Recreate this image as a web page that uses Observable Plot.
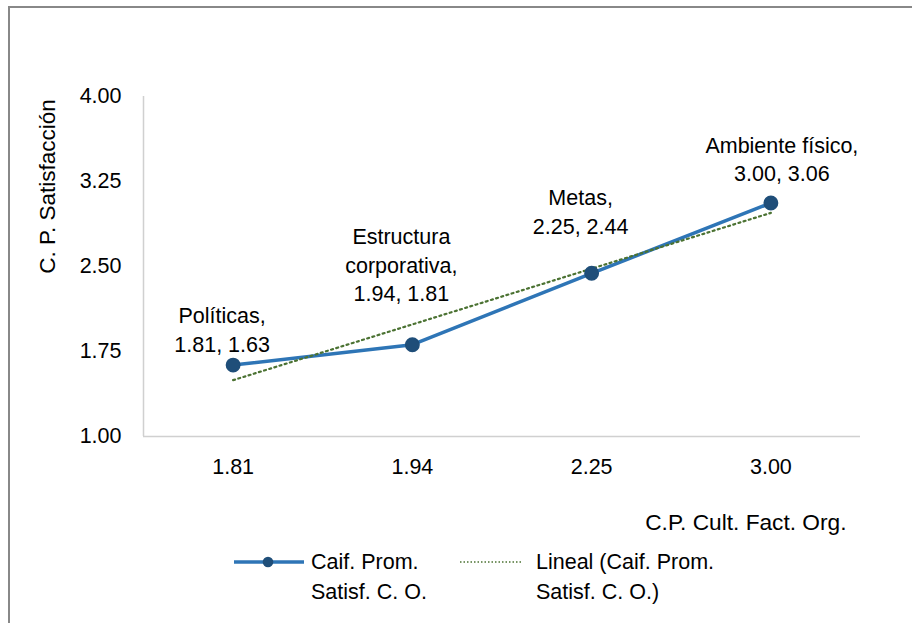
<!DOCTYPE html>
<html>
<head>
<meta charset="utf-8">
<script src="https://cdn.jsdelivr.net/npm/d3@7"></script>
<script src="https://cdn.jsdelivr.net/npm/@observablehq/plot@0.6"></script>
<style>
  html, body { margin: 0; padding: 0; background: #fff; }
  body { width: 912px; height: 623px; overflow: hidden; position: relative;
         font-family: "Liberation Sans", Arial, sans-serif; color: #000; }
  #frame { position: absolute; left: 8px; top: 6px; width: 1000px; height: 700px;
           border: 2px solid #888; box-sizing: border-box; }
  #chart { position: absolute; left: 0; top: 0; }
  .lg-item { position: absolute; top: 547px; font-size: 21.5px; line-height: 30px; }
  .lg-sw { position: absolute; top: 547px; }
</style>
</head>
<body>
<div id="frame"></div>
<div id="chart"></div>
<div id="legend"></div>
<script>
// ---- data ----
const categories = ["Políticas", "Estructura corporativa", "Metas", "Ambiente físico"];
const xValues = [1.81, 1.94, 2.25, 3.00];   // C.P. Cult. Fact. Org. (category axis)
const yValues = [1.63, 1.81, 2.44, 3.06];   // C. P. Satisfacción
const yTicks = [1.00, 1.75, 2.50, 3.25, 4.00];
const seriesName = "Caif. Prom. Satisf. C. O.";
const xTitle = "C.P. Cult. Fact. Org.";
const yTitle = "C. P. Satisfacción";

// ---- label layout (style, not data) ----
const labelWrap = [false, true, false, false];
const labelDx = [-11, -11, -11, 11];
const labelDy = [-37, -81, -63, -45];

const fmt = d3.format(".2f");
const data = categories.map((c, i) => ({ i: i + 1, name: c, xv: xValues[i], y: yValues[i] }));

const blue = "#2E75B6";
const navy = "#1F4E79";
const green = "#4B7232";
const FS = 21.5;

const labelMarks = data.map((d, k) =>
  Plot.text([d], {
    x: "i", y: "y",
    text: v => (labelWrap[k] ? v.name.replace(" ", "\n") : v.name) + ",\n" + fmt(v.xv) + ", " + fmt(v.y),
    dx: labelDx[k], dy: labelDy[k],
    lineAnchor: "middle", lineHeight: 1.33,
    fontSize: FS, fill: "#000", textAnchor: "middle"
  })
);

const chart = Plot.plot({
  width: 912,
  height: 623,
  marginLeft: 143,
  marginRight: 52,
  marginTop: 96,
  marginBottom: 187,
  style: { fontFamily: "Liberation Sans, Arial, sans-serif", background: "transparent", color: "#000" },
  x: { type: "linear", domain: [0.5, categories.length + 0.5] },
  y: { domain: [1, 4] },
  marks: [
    Plot.ruleX([0.5], { stroke: "#D0D0D0", strokeWidth: 1.5 }),
    Plot.ruleY([1], { stroke: "#D0D0D0", strokeWidth: 1.5 }),
    Plot.axisY({ ticks: yTicks, tickFormat: fmt, tickSize: 0, tickPadding: 22, fontSize: FS, label: null, fill: "#000" }),
    Plot.axisX({ ticks: data.map(d => d.i), tickFormat: i => fmt(xValues[i - 1]), tickSize: 0, tickPadding: 22, fontSize: FS, label: null, fill: "#000" }),
    Plot.line(data, { x: "i", y: "y", stroke: blue, strokeWidth: 3.5 }),
    Plot.linearRegressionY(data, { x: "i", y: "y", ci: 0, stroke: green, strokeWidth: 2.2, strokeDasharray: "2,3.4" }),
    Plot.dot(data, { x: "i", y: "y", r: 6.7, fill: navy, stroke: navy }),
    ...labelMarks,
    Plot.text([yTitle], { frameAnchor: "left", rotate: -90, dx: -96, dy: -80, fontSize: 22.5, fill: "#000", textAnchor: "middle", lineAnchor: "middle" }),
    Plot.text([xTitle], { frameAnchor: "bottom-right", dx: -14, dy: 86, fontSize: 22.7, fill: "#000", textAnchor: "end", lineAnchor: "middle" })
  ]
});
document.getElementById("chart").appendChild(chart);

// ---- legend ----
const lg = document.getElementById("legend");
lg.innerHTML = `
  <svg class="lg-sw" style="left:230px" width="80" height="30">
    <line x1="4" y1="15" x2="74" y2="15" stroke="${blue}" stroke-width="3.5"/>
    <circle cx="38" cy="15" r="5.3" fill="${navy}"/>
  </svg>
  <div class="lg-item" style="left:311px;width:140px">${seriesName}</div>
  <svg class="lg-sw" style="left:455px" width="75" height="30">
    <line x1="5" y1="15" x2="67" y2="15" stroke="${green}" stroke-width="1.5" stroke-dasharray="1.5,2"/>
  </svg>
  <div class="lg-item" style="left:536px;width:200px">Lineal (${seriesName})</div>
`;
</script>
</body>
</html>
